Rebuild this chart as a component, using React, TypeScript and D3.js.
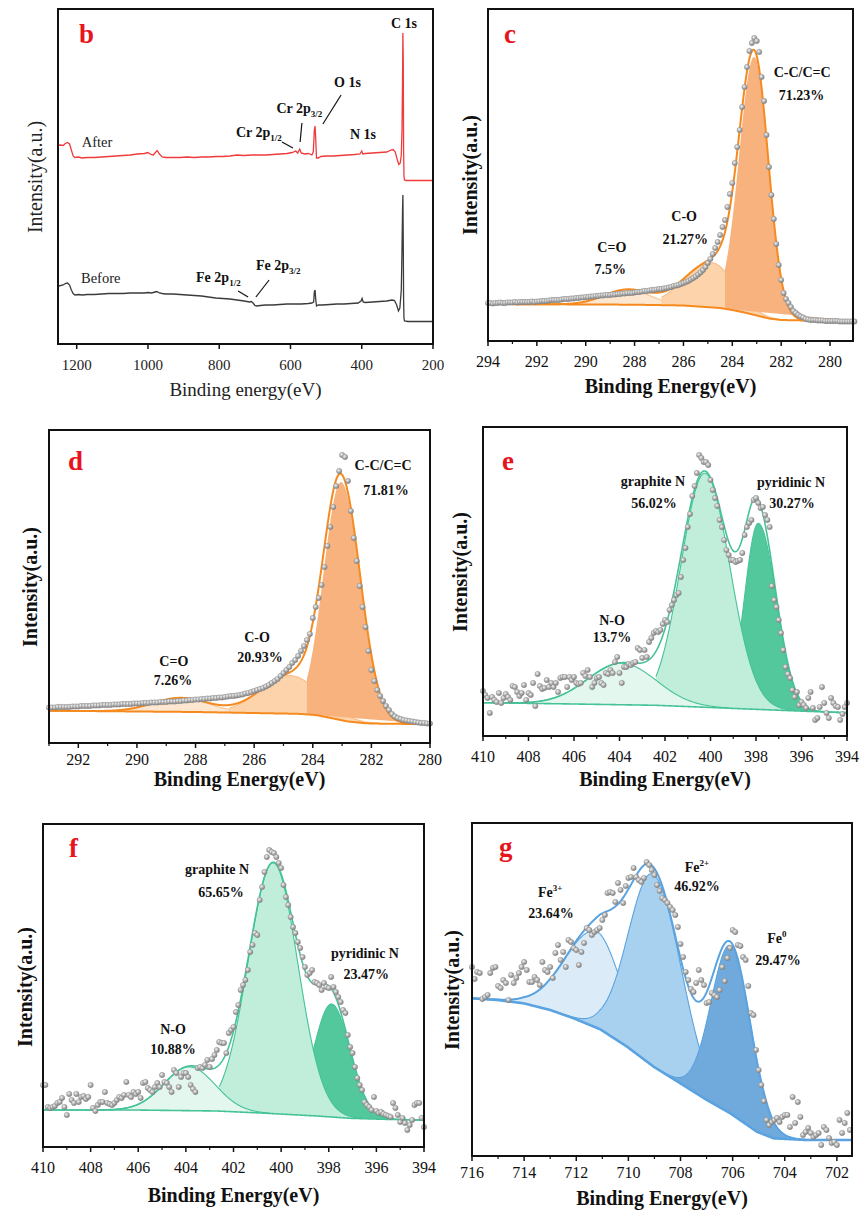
import React from "react";
import * as d3 from "d3";

type Pt = [number, number];
interface Peak { name: string; center: number; height: number; sigmaL: number; sigmaR: number; cut?: number; chord?: boolean; }
interface Lbl { text: string; sup?: string; be: number; h: number; }

// ================= Panel b : survey =================
const surveyTicks = [1200, 1000, 800, 600, 400, 200];
const surveyAfter: Pt[] = [
  [1253,198.5],[1245,199],[1238,198.5],[1232,200.5],[1226,201.5],[1220,200],[1215,194],[1210,188],[1205,186.5],[1195,187],[1185,186],[1170,186.5],[1150,186.5],[1130,187],[1110,187.5],[1090,188],[1070,188.5],[1050,189],[1030,190],[1010,190.5],[1000,191.5],[992,189.5],[985,189],[978,192],[974,193.5],[968,190],[960,187],[950,186.5],[930,186.5],[910,186.5],[890,187],[870,186.5],[850,187],[830,187],[810,187.5],[790,187.5],[770,188],[750,189],[730,188.5],[710,189],[690,189],[670,189],[650,189.5],[630,190],[610,190.5],[595,191.5],[585,193],[580,191],[574,195],[570,191],[560,190],[550,190.5],[540,189],[536,192],[533,214],[531,218],[529,204],[527,186],[522,186],[515,187.5],[500,188],[480,188],[460,188.5],[440,189],[420,189.5],[405,190],[400,193],[397,190],[390,190.5],[370,191],[350,191.5],[330,192],[318,194],[312,194.5],[306,192],[300,184],[296,179.5],[292,181],[289,189],[287,214],[285.5,264],[284.5,311],[283.5,284],[282.5,194],[281.5,168],[280,164],[275,163.5],[260,163.5],[240,163.5],[220,163.5],[200,163.5]
];
const surveyBefore: Pt[] = [
  [1253,58],[1245,58.5],[1238,59],[1232,60.5],[1226,61],[1220,59],[1215,54],[1210,50.5],[1205,49],[1195,49.5],[1185,49],[1170,49.5],[1150,49.5],[1130,50],[1110,50.5],[1090,50.5],[1070,50.5],[1050,51],[1030,51],[1010,51],[1000,51.5],[990,51],[980,52],[975,52.5],[968,51],[960,50.5],[950,50],[930,50],[910,49.5],[890,49],[870,48.5],[850,48],[830,47],[810,46],[790,45.5],[770,45],[750,44],[730,43],[715,42],[710,42.5],[705,41],[700,38.5],[695,38],[685,38.5],[670,39],[650,39],[630,39.5],[610,40],[590,40],[570,40],[550,40.5],[540,41],[535,42],[533,52],[531,54],[529,44],[527,38],[522,39],[510,39],[490,39.5],[470,40],[450,40],[430,40.5],[410,41],[402,43],[399,45.5],[396,42],[390,41.5],[370,42],[350,42.5],[330,43],[315,44],[308,43.5],[302,39],[297,33],[293,36],[289,54],[287,94],[285.5,134],[284.5,149],[283.5,104],[282.5,44],[281.5,26],[280,23],[270,22.5],[250,22.5],[230,22.5],[200,22.5]
];
const surveyNotes = [
  { text: "C 1s", sub: "", be: 281.4, v: 316, anchor: "middle" },
  { text: "O 1s", sub: "", be: 440, v: 257, anchor: "middle" },
  { text: "Cr 2p", sub: "3/2", be: 639.5, v: 231, anchor: "start" },
  { text: "Cr 2p", sub: "1/2", be: 753, v: 207.3, anchor: "start" },
  { text: "N 1s", sub: "", be: 433, v: 204.7, anchor: "start" },
  { text: "Fe 2p", sub: "1/2", be: 865, v: 62.3, anchor: "start" },
  { text: "Fe 2p", sub: "3/2", be: 697, v: 74, anchor: "start" },
];
const surveySeriesNames = [
  { text: "After", be: 1186, v: 197.3 },
  { text: "Before", be: 1188, v: 60.7 },
];
const surveyLeaders: [number, number, number, number][] = [
  [458, 249, 509, 220], [568, 221, 573, 202], [624, 202, 593, 196], [747, 53, 719, 47], [660, 64, 697, 47],
];

// ================= Panel c : C 1s (before) =================
const cTicks = [294, 292, 290, 288, 286, 284, 282, 280];
const cDotStart = 294;
const cDots = [
  38,38,37.5,38,38,38.5,38,38,38.5,38.5,38.5,39,38.5,39,39,39,39,39,39.5,39,39.5,
  39.5,40,40,40,40.5,41,41,41,41,41.5,42,42,42,42.5,42.5,43,43,43.5,43.5,44,
  44,44.5,44.5,45,45,45.5,45.5,46,46,46,46.5,46.5,47,47,47.5,47.5,48,48,48,48.5,
  49,49,49.5,50,50,50.5,51,51,51.5,52,52,52.5,53,53.5,54,55,55.5,56,57,58,
  59,60,61.5,63,64.5,66.5,68.5,71,74,78,82,87,93,99,106,114,121,134,147,158,
  178,194,211,234,254,274,290,298,303,300,289,264,240,206,174,146,122,97,76,61,
  48,42,38,34,30,28,26,24.5,23.5,22,21.5,21,21,21,20.5,20.5,20.5,20,20,20,
  20,20,20,19.5,19.5,19.5,19.5,19.5,19.5,19.5
];
const cBaseline: Pt[] = [[294,37],[288,36.3],[286,35.5],[284.5,33],[284,31],[283.5,28.5],[283,25.5],[282.5,22.5],[282,21],[281,20.5],[279,20.3]];
const cPeaks: Peak[] = [
  { name: "C=O", center: 288.3, height: 15, sigmaL: 0.95, sigmaR: 0.95 },
  { name: "C-O", center: 284.85, height: 44.7, sigmaL: 1.1, sigmaR: 0.9, cut: 286.9 },
  { name: "C-C/C=C", center: 283.1, height: 258, sigmaL: 0.62, sigmaR: 0.575, cut: 284.3, chord: true },
];
const cLabels: Lbl[] = [
  { text: "C-C/C=C", be: 281.14, h: 264.5 }, { text: "71.23%", be: 281.17, h: 241 },
  { text: "C-O", be: 285.97, h: 120 }, { text: "21.27%", be: 285.93, h: 97 },
  { text: "C=O", be: 288.93, h: 89 }, { text: "7.5%", be: 289.0, h: 67 },
];

// ================= Panel d : C 1s (after) =================
const dTicks = [292, 290, 288, 286, 284, 282, 280];
const dDotStart = 293;
const dDots = [
  35.5,35.5,35.5,36,36,36,36,36,36.5,36.5,36.5,
  37,37,37,37,37.5,37.5,37.5,38,38,38,
  38,38.5,38.5,38.5,39,39,39,39,39.5,39.5,
  39.5,40,40,40,40.5,40.5,40.5,41,41,41,
  41.5,41.5,41.5,42,42,42.5,42.5,43,43,43.5,
  43.5,44,44,44.5,44.5,45,45,45.5,45.5,46,
  46.5,47,47,47.5,48,48.5,49.5,50,51,52,
  53,54,55,56.5,58,60,62,64,67,70,
  73,76,80,83,87,92,97,103,109,125,
  136,145,158,176,197,216,236,257,272,288,
  286,262,232,205,182,157,136,116,92,73,
  62,53,47,42,37,33,29,26.5,25,24,
  23,22.5,22,21.5,21,20.5,20,20,19.5,19.5
];
const dBaseline: Pt[] = [[293,32.3],[288,31],[284.5,29.2],[283.9,28],[283.3,24.5],[282.8,21.5],[282.2,19.7],[281.5,19.2],[280,19]];
const dPeaks: Peak[] = [
  { name: "C=O", center: 288.5, height: 14, sigmaL: 0.95, sigmaR: 0.95 },
  { name: "C-O", center: 284.78, height: 38, sigmaL: 1.0, sigmaR: 1.0, cut: 286.85 },
  { name: "C-C/C=C", center: 283.03, height: 238, sigmaL: 0.6, sigmaR: 0.65, cut: 284.2, chord: true },
];
const dLabels: Lbl[] = [
  { text: "C-C/C=C", be: 281.6, h: 273 }, { text: "71.81%", be: 281.5, h: 248 },
  { text: "C-O", be: 285.9, h: 101 }, { text: "20.93%", be: 285.8, h: 81 },
  { text: "C=O", be: 288.74, h: 77 }, { text: "7.26%", be: 288.77, h: 58 },
];

// ================= Panel e : N 1s (before) =================
const nTicks = [410, 408, 406, 404, 402, 400, 398, 396, 394];
const eDotStart = 410;
const eDots = [
  45,41,38,23,39,36,34,43,33,38,
  42,39,36,50,49,44,40,43,51,36,
  43,41,53,30,62,50,47,48,56,49,
  53,49,53,44,58,59,59,49,59,56,
  59,53,52,53,63,60,66,59,49,53,
  58,59,53,51,63,62,66,63,74,79,
  63,53,69,69,72,71,73,74,88,86,
  78,86,79,94,98,103,105,104,106,112,
  116,114,126,131,136,141,143,159,176,188,
  209,222,240,250,263,281,278,274,274,271,
  256,246,238,230,216,209,196,186,181,176,
  176,174,175,176,183,201,209,213,216,236,
  238,233,228,229,221,216,209,150,136,129,
  116,103,86,69,62,58,46,39,44,31,
  34,31,28,38,44,28,16,18,29,49,
  33,23,18,38,33,30,29,16,22,29,
  33
];
const eBaseline: Pt[] = [[410,33.3],[406,32],[402.4,30.7],[400.2,28.7],[398.7,27.3],[397.25,26],[395.8,24.7],[394,23.3]];
const ePeaks: Peak[] = [
  { name: "pyridinic N", center: 397.9, height: 186, sigmaL: 0.6, sigmaR: 0.78 },
  { name: "graphite N", center: 400.25, height: 234, sigmaL: 1.05, sigmaR: 1.1, cut: 402.4 },
  { name: "N-O", center: 403.9, height: 41.5, sigmaL: 1.5, sigmaR: 1.5 },
];
const eLabels: Lbl[] = [
  { text: "graphite N", be: 402.53, h: 250 }, { text: "56.02%", be: 402.48, h: 228 },
  { text: "pyridinic N", be: 396.46, h: 249 }, { text: "30.27%", be: 396.42, h: 228 },
  { text: "N-O", be: 404.33, h: 111 }, { text: "13.7%", be: 404.33, h: 94 },
];

// ================= Panel f : N 1s (after) =================
const fDotStart = 410;
const fDots = [
  62,62,40,39,40,41,44,45,49,40,
  32,53,47,44,53,45,50,51,48,50,
  62,39,36,42,45,45,55,44,43,42,
  44,47,50,49,52,65,52,50,55,53,
  55,49,64,65,59,57,55,60,64,60,
  72,65,64,60,55,77,74,60,70,74,
  74,70,62,58,55,79,80,79,82,87,
  80,88,92,97,105,104,104,94,114,117,
  120,135,142,157,162,167,177,195,202,214,
  212,247,260,275,290,297,295,294,290,284,
  279,262,250,242,230,220,214,205,199,190,
  180,172,174,177,165,164,162,157,164,160,
  159,170,160,155,150,145,137,134,112,100,
  94,80,69,62,57,45,42,40,37,50,
  36,34,35,33,32,31,30,44,39,32,
  25,29,24,17,22,27,42,44,44,29,
  20
];
const fBaseline: Pt[] = [[410,37],[406.2,37],[402.7,36],[400.6,33.7],[398.5,31],[397.1,28.7],[395.7,27.7],[394,27]];
const fPeaks: Peak[] = [
  { name: "pyridinic N", center: 397.88, height: 113, sigmaL: 0.74, sigmaR: 0.77 },
  { name: "graphite N", center: 400.33, height: 250.8, sigmaL: 1.05, sigmaR: 1.03, cut: 402.6 },
  { name: "N-O", center: 403.85, height: 43.8, sigmaL: 1.07, sigmaR: 1.07 },
];
const fLabels: Lbl[] = [
  { text: "graphite N", be: 402.69, h: 273 }, { text: "65.65%", be: 402.52, h: 250 },
  { text: "pyridinic N", be: 396.48, h: 189 }, { text: "23.47%", be: 396.43, h: 168 },
  { text: "N-O", be: 404.54, h: 113 }, { text: "10.88%", be: 404.54, h: 93 },
];

// ================= Panel g : Fe 2p =================
const gTicks = [716, 714, 712, 710, 708, 706, 704, 702];
const gDotStart = 716;
const gDots = [
  189,177,184,183,157,159,161,183,188,189,
  170,168,176,173,156,181,173,178,183,189,
  194,186,174,174,179,176,171,194,186,184,
  189,178,203,211,196,204,189,216,214,208,
  206,191,204,213,228,226,221,224,226,228,
  236,241,263,264,263,254,273,266,253,270,
  278,279,288,279,276,274,278,294,291,286,
  281,271,265,258,256,253,249,246,241,229,
  212,199,184,176,167,164,173,186,176,171,
  153,154,163,161,159,166,189,175,198,208,
  226,224,211,210,199,196,170,143,141,106,
  86,71,55,36,31,34,36,38,34,39,
  41,41,29,59,33,54,39,21,24,28,
  23,19,21,23,11,29,26,18,13,14,
  11,36,23,33,43,26
];
const gBaseline: Pt[] = [[716,157.7],[715.04,156],[714.02,152.7],[713.0,146],[712.1,137.7],[711.08,126.7],[710.05,109.3],[709.03,89.3],[708.01,72.7],[706.99,56],[706.09,42.7],[705.07,24.3],[704.43,17.7],[703.15,16],[701.42,16]];
const gPeaks: Peak[] = [
  { name: "Fe3+", center: 711.2, height: 96, sigmaL: 1.2, sigmaR: 0.95 },
  { name: "Fe2+", center: 709.03, height: 192, sigmaL: 0.96, sigmaR: 1.05 },
  { name: "Fe0", center: 706.07, height: 168, sigmaL: 0.75, sigmaR: 0.76 },
];
const gLabels: Lbl[] = [
  { text: "Fe", sup: "3+", be: 713.0, h: 259 }, { text: "23.64%", be: 712.97, h: 238 },
  { text: "Fe", sup: "2+", be: 707.37, h: 284 }, { text: "46.92%", be: 707.37, h: 265 },
  { text: "Fe", sup: "0", be: 704.3, h: 213 }, { text: "29.47%", be: 704.26, h: 191 },
];

// ================= layout & styles =================
const FONT = "'Liberation Serif', Tinos, 'Times New Roman', 'DejaVu Serif', serif";
const LB = { x0: 58, x1: 433, y0: 9, y1: 344, dom: [1252.5, 200], yMax: 335 };
const LC = { x0: 488, x1: 853, y0: 9, y1: 341, dom: [294, 279.06], yMax: 332, tickY: 367, titleY: 393, yTitleX: 470, yTitleY: 175, letter: "c", lx: 504, ly: 43 };
const LD = { x0: 49, x1: 430, y0: 430, y1: 743, dom: [293, 280], yMax: 313, tickY: 765, titleY: 786, yTitleX: 30, yTitleY: 587, letter: "d", lx: 68, ly: 470 };
const LE = { x0: 483, x1: 847, y0: 427, y1: 736, dom: [410, 394], yMax: 309, tickY: 762, titleY: 786, yTitleX: 460, yTitleY: 572, letter: "e", lx: 502, ly: 470 };
const LF = { x0: 43, x1: 424, y0: 824, y1: 1147, dom: [410, 394], yMax: 323, tickY: 1173, titleY: 1202, yTitleX: 25, yTitleY: 987, letter: "f", lx: 69, ly: 857 };
const LG = { x0: 472, x1: 852, y0: 823, y1: 1156, dom: [716, 701.42], yMax: 333, tickY: 1178, titleY: 1205, yTitleX: 452, yTitleY: 990, letter: "g", lx: 499, ly: 856 };

const palC = { line: "#f58a1f", lineW: 2, baseW: 2, fills: ["#fde7d0", "#fcd3aa", "#f8b27e"], strokes: ["#f9c391", "#f9bd86", "none"] };
const palN = { line: "#45c397", lineW: 1.6, baseW: 1.6, fills: ["#52c89c", "#c0eedb", "#e3f7ef"], strokes: ["#45c397", "#45c397", "#45c397"] };
const palG = { line: "#5ba3e0", lineW: 2, baseW: 2.6, fills: ["#dcebf8", "#a8d0ef", "#70aadc"], strokes: ["#5ba3e0", "#5ba3e0", "#5ba3e0"] };

function gauss(p: Peak, e: number) {
  const s = e > p.center ? p.sigmaL : p.sigmaR;
  const d = e - p.center;
  return p.height * Math.exp(-(d * d) / (2 * s * s));
}

function FitPanel(props: any) {
  const { L, ticks, dotStart, dots, baseline, peaks, labels, pal, id } = props;
  const x = d3.scaleLinear().domain(L.dom).range([L.x0, L.x1]);
  const y = d3.scaleLinear().domain([0, L.yMax]).range([L.y1, L.y0]);
  const bl = d3.scaleLinear<number>().domain(baseline.map((d: Pt) => d[0])).range(baseline.map((d: Pt) => d[1])).clamp(true);
  const hi = Math.max(L.dom[0], L.dom[1]);
  const lo = Math.min(L.dom[0], L.dom[1]);
  const grid = d3.range(hi, lo - 1e-9, -0.02);
  if (grid[grid.length - 1] > lo) grid.push(lo);

  const comps = peaks.map((p: Peak, i: number) => {
    let pts = grid.filter((e) => p.cut == null || e <= p.cut);
    if (p.cut != null) pts = [p.cut, ...pts];
    const a = pts[0], b = pts[pts.length - 1];
    const bottom = (e: number) => (p.chord ? bl(a) + ((bl(b) - bl(a)) * (e - a)) / (b - a) : bl(e));
    const area = d3.area<number>().x((e) => x(e)).y0((e) => y(bottom(e))).y1((e) => y(bl(e) + gauss(p, e)))(pts) || "";
    const top = pts.filter((e) => gauss(p, e) > 0.3);
    const line = d3.line<number>().x((e) => x(e)).y((e) => y(bl(e) + gauss(p, e)))(top) || "";
    return (
      <g key={p.name + i}>
        <path d={area} fill={pal.fills[i]} stroke="none" />
        {pal.strokes[i] !== "none" && <path d={line} fill="none" stroke={pal.strokes[i]} strokeWidth={1.1} />}
      </g>
    );
  });
  const env = d3.line<number>().x((e) => x(e)).y((e) => y(bl(e) + d3.sum(peaks, (p: Peak) => gauss(p, e))))(grid) || "";
  const base = d3.line<number>().x((e) => x(e)).y((e) => y(bl(e)))(grid) || "";
  const minor = d3.range(Math.ceil(lo), Math.floor(hi) + 1).filter((v) => !ticks.includes(v));

  const dotPts = dots
    .map((v: number, i: number) => [dotStart - i * 0.1, v])
    .filter((d: number[]) => d[0] <= hi + 0.05 && d[0] >= lo - 0.1);

  return (
    <g>
      <defs>
        <clipPath id={"clip" + id}>
          <rect x={L.x0} y={L.y0} width={L.x1 - L.x0} height={L.y1 - L.y0} />
        </clipPath>
      </defs>
      <g clipPath={`url(#clip${id})`}>
        {comps}
        <path d={base} fill="none" stroke={pal.line} strokeWidth={pal.baseW} />
        <path d={env} fill="none" stroke={pal.line} strokeWidth={pal.lineW} />
      </g>
      {dotPts.map((d: number[], i: number) => (
        <circle key={i} cx={x(d[0])} cy={y(d[1])} r={2.7} fill="url(#dotGrad)" stroke="#8a8a8a" strokeWidth={0.4} />
      ))}
      <rect x={L.x0} y={L.y0} width={L.x1 - L.x0} height={L.y1 - L.y0} fill="none" stroke="#111" strokeWidth={2} />
      {ticks.map((t: number) => (
        <g key={"t" + t}>
          <line x1={x(t)} x2={x(t)} y1={L.y1} y2={L.y1 + 5} stroke="#111" strokeWidth={1.5} />
          <text x={x(t)} y={L.tickY} textAnchor="middle" fontSize={16} fill="#111">{t}</text>
        </g>
      ))}
      {minor.map((t: number) => (
        <line key={"m" + t} x1={x(t)} x2={x(t)} y1={L.y1} y2={L.y1 + 3} stroke="#111" strokeWidth={1.2} />
      ))}
      {labels.map((l: Lbl, i: number) => (
        <text key={"l" + i} x={x(l.be)} y={y(l.h)} textAnchor="middle" fontSize={14} fontWeight="bold" fill="#111">
          {l.text}
          {l.sup && <tspan dy={-6} fontSize={9}>{l.sup}</tspan>}
        </text>
      ))}
      <text x={(L.x0 + L.x1) / 2} y={L.titleY} textAnchor="middle" fontSize={20} fontWeight="bold" fill="#111">Binding Energy(eV)</text>
      <text transform={`translate(${L.yTitleX},${L.yTitleY}) rotate(-90)`} dy="0.35em" textAnchor="middle" fontSize={20} fontWeight="bold" fill="#111">Intensity(a.u.)</text>
      <text x={L.lx} y={L.ly} fontSize={27} fontWeight="bold" fill="#e8141c">{L.letter}</text>
    </g>
  );
}

function SurveyPanel() {
  const L = LB;
  const x = d3.scaleLinear().domain(L.dom).range([L.x0, L.x1]);
  const y = d3.scaleLinear().domain([0, L.yMax]).range([L.y1, L.y0]);
  const line = d3.line<Pt>().x((d) => x(d[0])).y((d) => y(d[1]));
  return (
    <g>
      <defs>
        <clipPath id="clipB">
          <rect x={L.x0} y={L.y0} width={L.x1 - L.x0} height={L.y1 - L.y0} />
        </clipPath>
      </defs>
      <g clipPath="url(#clipB)">
        <path d={line(surveyBefore) || ""} fill="none" stroke="#3b3b3b" strokeWidth={1.3} />
        <path d={line(surveyAfter) || ""} fill="none" stroke="#ef3b3b" strokeWidth={1.3} />
      </g>
      <rect x={L.x0} y={L.y0} width={L.x1 - L.x0} height={L.y1 - L.y0} fill="none" stroke="#111" strokeWidth={2} />
      {surveyTicks.map((t) => (
        <g key={t}>
          <line x1={x(t)} x2={x(t)} y1={L.y1} y2={L.y1 + 5} stroke="#111" strokeWidth={1.5} />
          <text x={x(t)} y={370} textAnchor="middle" fontSize={15} fill="#222">{t}</text>
        </g>
      ))}
      {surveyLeaders.map((s, i) => (
        <line key={"ld" + i} x1={x(s[0])} y1={y(s[1])} x2={x(s[2])} y2={y(s[3])} stroke="#111" strokeWidth={1.2} />
      ))}
      {surveyNotes.map((n, i) => (
        <text key={"n" + i} x={x(n.be)} y={y(n.v)} textAnchor={n.anchor as any} fontSize={14} fontWeight="bold" fill="#111">
          {n.text}
          {n.sub && <tspan dy={4} fontSize={9}>{n.sub}</tspan>}
        </text>
      ))}
      {surveySeriesNames.map((n, i) => (
        <text key={"s" + i} x={x(n.be)} y={y(n.v)} fontSize={14.5} fill="#222">{n.text}</text>
      ))}
      <text x={(L.x0 + L.x1) / 2} y={396} textAnchor="middle" fontSize={19} fill="#222">Binding energy(eV)</text>
      <text transform={`translate(35,177) rotate(-90)`} dy="0.35em" textAnchor="middle" fontSize={20} fill="#222">Intensity(a.u.)</text>
      <text x={79} y={43} fontSize={27} fontWeight="bold" fill="#e8141c">b</text>
    </g>
  );
}

export default function App() {
  return (
    <svg width={866} height={1213} viewBox="0 0 866 1213" fontFamily={FONT}
      style={{ position: "absolute", left: 0, top: 0, background: "#fff" }}>
      <defs>
        <radialGradient id="dotGrad" cx="38%" cy="35%" r="65%">
          <stop offset="0%" stopColor="#f4f4f4" />
          <stop offset="100%" stopColor="#7b7b7b" />
        </radialGradient>
      </defs>
      <rect x={0} y={0} width={866} height={1213} fill="#fff" />
      <SurveyPanel />
      <FitPanel id="c" L={LC} ticks={cTicks} dotStart={cDotStart} dots={cDots} baseline={cBaseline} peaks={cPeaks} labels={cLabels} pal={palC} />
      <FitPanel id="d" L={LD} ticks={dTicks} dotStart={dDotStart} dots={dDots} baseline={dBaseline} peaks={dPeaks} labels={dLabels} pal={palC} />
      <FitPanel id="e" L={LE} ticks={nTicks} dotStart={eDotStart} dots={eDots} baseline={eBaseline} peaks={ePeaks} labels={eLabels} pal={palN} />
      <FitPanel id="f" L={LF} ticks={nTicks} dotStart={fDotStart} dots={fDots} baseline={fBaseline} peaks={fPeaks} labels={fLabels} pal={palN} />
      <FitPanel id="g" L={LG} ticks={gTicks} dotStart={gDotStart} dots={gDots} baseline={gBaseline} peaks={gPeaks} labels={gLabels} pal={palG} />
    </svg>
  );
}
